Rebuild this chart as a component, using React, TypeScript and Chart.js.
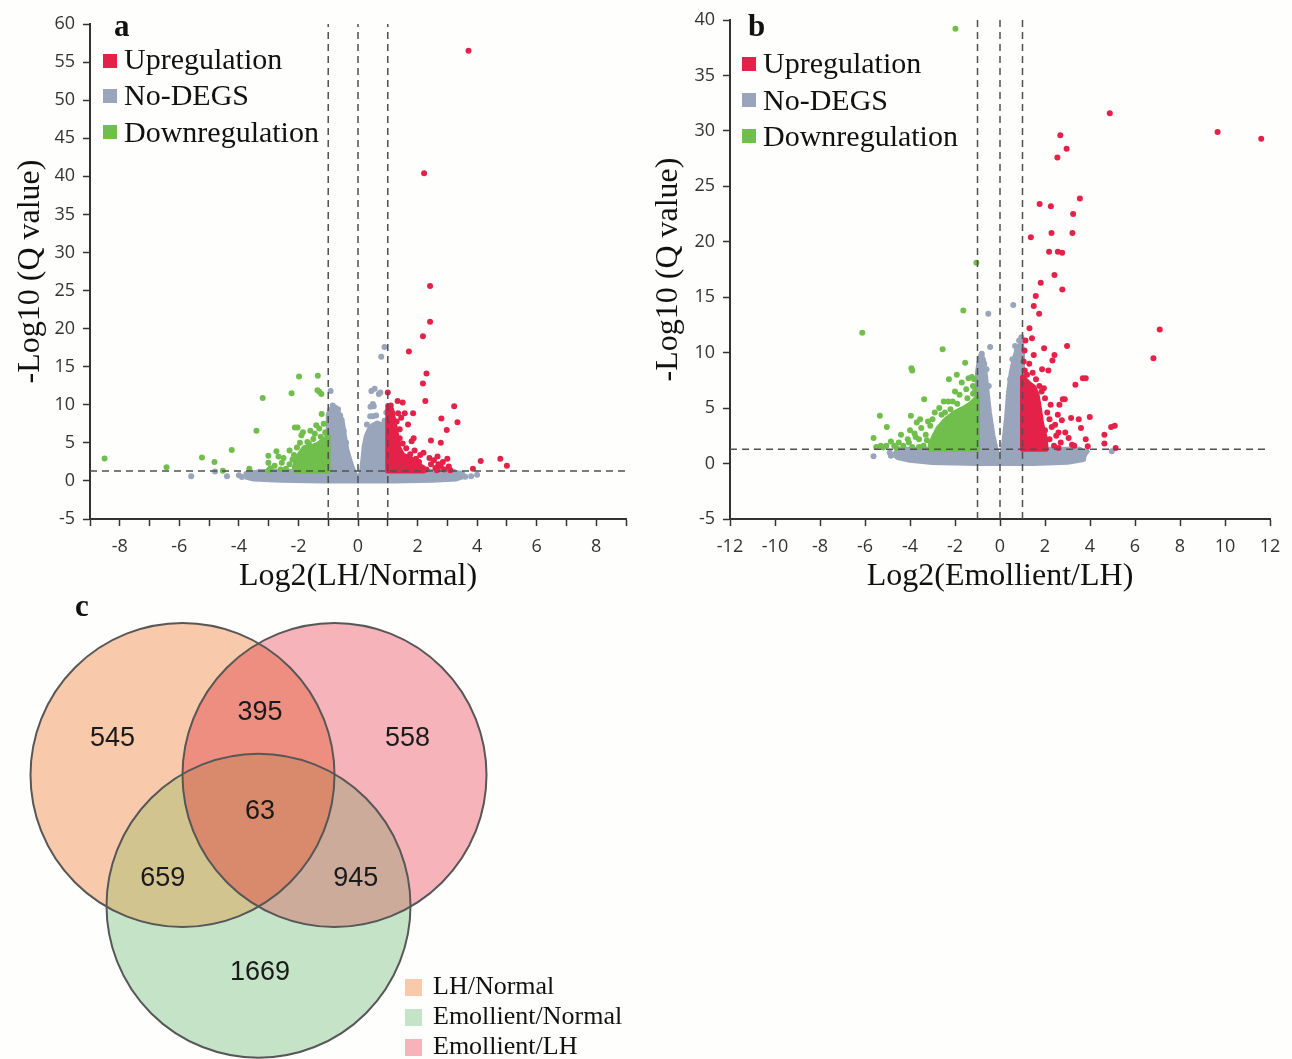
import React, { useEffect, useRef } from 'react';
import { Chart, registerables } from 'chart.js';

Chart.register(...registerables);

type Pt = [number, number];

// ================= shared =================
const yAxisTitle = '-Log10 (Q value)';
const foldThresholds = [-1, 0, 1];
const qThreshold = 1.3;
const legendLabels = ['Upregulation', 'No-DEGS', 'Downregulation'];

// ================= Panel a : Log2(LH/Normal) =================
const aXTitle = 'Log2(LH/Normal)';
const aXRange: Pt = [-9, 9];
const aYRange: Pt = [-5, 60];

const aNoDegsCore: Pt[] = [
  [-3.8, 0.55], [-3.6, 1.0], [-3.2, 1.25], [-1.0, 1.3], [-1.0, 8.6], [-0.95, 9.3], [-0.85, 9.6],
  [-0.7, 9.2], [-0.6, 8.6], [-0.52, 7.6], [-0.45, 5.8], [-0.38, 4.2], [-0.28, 2.8], [-0.18, 1.6],
  [-0.08, 0.7], [0.05, 0.5], [0.12, 1.2], [0.17, 3.0], [0.21, 4.6], [0.28, 5.9], [0.38, 6.8],
  [0.5, 7.3], [0.65, 7.6], [0.8, 7.3], [0.9, 7.6], [1.0, 7.8], [1.0, 1.3], [3.1, 1.25],
  [3.45, 1.0], [3.55, 0.6], [3.3, 0.25], [2.5, 0.08], [1.2, 0.0], [0.2, 0.0], [-1.2, 0.0],
  [-2.6, 0.08], [-3.5, 0.25],
];
const aNoDegsPoints: Pt[] = [
  [-0.92, 11.8], [-0.85, 9.9], [-0.76, 9.6], [-0.67, 9.4], [-0.6, 8.6], [-0.55, 8.0], [-0.48, 6.6],
  [-0.4, 5.0], [0.45, 11.8], [0.56, 12.1], [0.7, 11.4], [0.75, 11.6], [0.5, 10.1], [0.42, 9.75],
  [0.53, 9.8], [0.5, 8.5], [0.61, 8.6], [0.41, 8.5], [0.3, 7.4], [0.89, 7.9], [0.95, 9.0],
  [0.78, 16.3], [0.89, 17.6], [-5.6, 0.6], [-4.8, 1.25], [-4.4, 0.6], [-4.0, 0.75], [-3.9, 0.5],
  [-3.75, 0.9], [3.5, 0.9], [3.6, 0.55], [3.8, 0.6], [4.0, 0.8], [-3.3, 1.2], [3.2, 1.2],
];
const aDownCore: Pt[] = [
  [-2.1, 1.3], [-1.0, 1.3], [-1.0, 5.8], [-1.15, 5.4], [-1.35, 4.8], [-1.55, 4.5], [-1.8, 4.4],
  [-1.95, 3.6], [-2.1, 2.4],
];
const aDownPoints: Pt[] = [
  [-8.51, 2.96], [-6.43, 1.8], [-5.24, 3.06], [-4.82, 2.5], [-4.54, 1.35], [-4.24, 4.06],
  [-3.65, 1.6], [-3.41, 6.6], [-3.2, 10.9], [-3.01, 3.3], [-3.01, 2.4], [-2.94, 1.65],
  [-2.74, 3.9], [-2.67, 3.2], [-2.56, 2.4], [-2.42, 1.6], [-2.12, 1.8], [-2.23, 11.5],
  [-1.98, 13.7], [-1.35, 13.8], [-1.3, 11.7], [-1.23, 11.4], [-1.36, 11.9], [-1.22, 8.8],
  [-2.12, 7.0], [-2.03, 7.0], [-1.85, 6.4], [-1.6, 6.6], [-1.45, 6.2], [-1.3, 6.9], [-1.15, 7.5],
  [-1.1, 6.4], [-1.25, 5.8], [-1.5, 5.5], [-1.7, 5.1], [-1.95, 5.0], [-2.05, 4.4], [-2.3, 4.0],
  [-2.5, 3.0], [-2.2, 2.8], [-2.8, 2.0], [-2.3, 2.2], [-1.9, 6.0], [-1.65, 4.9], [-1.05, 6.2],
  [-2.15, 3.4], [-2.6, 1.5], [-3.0, 1.4], [-1.4, 7.3],
];
const aUpCore: Pt[] = [
  [1.0, 1.3], [2.2, 1.3], [2.2, 1.7], [2.0, 2.2], [1.8, 2.9], [1.5, 3.4], [1.35, 4.5],
  [1.3, 6.0], [1.2, 8.0], [1.12, 9.5], [1.0, 9.9],
];
const aUpPoints: Pt[] = [
  [3.71, 56.5], [2.22, 40.4], [2.42, 25.6], [2.42, 20.9], [2.18, 19.0], [1.71, 17.0], [2.3, 14.1],
  [2.18, 12.8], [2.26, 10.5], [1.0, 11.6], [1.33, 10.5], [1.5, 10.3], [3.23, 9.8], [3.34, 7.7],
  [2.8, 8.2], [2.98, 6.7], [2.45, 5.3], [2.78, 5.0], [4.78, 2.9], [4.12, 2.6], [5.0, 2.0],
  [3.86, 1.6], [1.1, 9.9], [1.16, 8.9], [1.35, 8.9], [1.57, 8.9], [1.85, 8.9], [1.68, 7.4],
  [1.45, 8.3], [1.87, 5.6], [1.5, 4.9], [1.62, 4.3], [1.9, 4.0], [2.09, 3.4], [2.05, 2.5],
  [2.4, 3.0], [2.67, 3.2], [2.85, 2.5], [3.0, 2.9], [2.78, 1.9], [2.6, 1.7], [2.45, 2.2],
  [3.05, 1.9], [2.9, 1.5], [2.3, 1.5], [1.7, 1.6], [1.55, 2.3], [1.4, 6.8], [1.3, 7.8],
  [2.65, 1.4], [3.1, 1.4], [1.95, 2.9], [2.2, 3.7], [1.8, 5.2], [1.75, 3.5], [1.4, 5.6],
  [2.55, 2.7], [2.7, 2.2], [1.2, 4.6],
];

// ================= Panel b : Log2(Emollient/LH) =================
const bXTitle = 'Log2(Emollient/LH)';
const bXRange: Pt = [-12, 12];
const bYRange: Pt = [-5, 40];

const bNoDegsCore: Pt[] = [
  [-4.7, 0.8], [-4.5, 1.3], [-1.0, 1.3], [-1.0, 8.2], [-0.93, 9.2], [-0.84, 9.8], [-0.74, 9.4],
  [-0.65, 8.0], [-0.57, 6.4], [-0.47, 4.6], [-0.32, 2.6], [-0.17, 1.2], [-0.03, 0.6], [0.1, 0.9],
  [0.18, 2.0], [0.3, 4.3], [0.38, 6.4], [0.5, 8.2], [0.65, 9.6], [0.8, 10.4], [0.95, 10.9],
  [1.0, 10.0], [1.0, 1.3], [3.55, 1.3], [3.8, 0.9], [3.65, 0.35], [3.0, 0.12], [1.5, 0.0],
  [-1.0, 0.0], [-3.0, 0.1], [-4.0, 0.3], [-4.55, 0.55],
];
const bNoDegsPoints: Pt[] = [
  [0.59, 14.3], [-0.52, 13.5], [-0.44, 10.5], [-0.81, 9.9], [-0.9, 9.5], [0.85, 11.1],
  [0.67, 10.6], [0.95, 11.4], [0.75, 10.2], [-0.6, 8.5], [-0.7, 9.0], [0.55, 9.4], [0.45, 7.6],
  [-0.5, 7.0], [-5.62, 0.65], [-4.85, 0.7], [4.97, 1.1], [3.85, 1.1], [3.7, 0.4], [-4.6, 0.9],
  [-4.3, 0.5], [-4.9, 1.0],
];
const bDownCore: Pt[] = [
  [-3.1, 1.3], [-1.0, 1.3], [-1.0, 6.0], [-1.3, 5.4], [-1.6, 5.0], [-2.0, 4.6], [-2.4, 4.0],
  [-2.75, 3.2], [-2.95, 2.4], [-3.1, 1.7],
];
const bDownPoints: Pt[] = [
  [-1.98, 39.2], [-1.05, 18.1], [-1.63, 13.8], [-6.12, 11.8], [-2.55, 10.3], [-3.94, 8.6],
  [-3.9, 8.4], [-1.55, 9.1], [-2.27, 7.6], [-1.92, 8.0], [-1.4, 7.7], [-1.25, 7.8], [-1.15, 7.6],
  [-3.37, 5.8], [-5.34, 4.3], [-3.96, 4.3], [-5.03, 3.3], [-5.62, 2.3], [-5.3, 1.6], [-5.2, 1.45],
  [-5.05, 1.6], [-4.7, 1.6], [-4.5, 1.9], [-4.3, 1.6], [-4.1, 2.2], [-3.9, 1.5], [-3.8, 2.7],
  [-3.6, 2.2], [-3.5, 3.2], [-3.3, 2.6], [-3.2, 3.8], [-3.0, 4.0], [-3.1, 3.4], [-2.9, 4.6],
  [-2.7, 5.0], [-2.5, 5.6], [-2.3, 5.6], [-2.1, 5.6], [-1.8, 6.2], [-1.5, 6.7], [-1.2, 7.0],
  [-1.1, 6.6], [-2.6, 4.4], [-3.7, 3.7], [-4.0, 3.0], [-4.4, 2.6], [-2.0, 6.5], [-1.7, 7.3],
  [-3.4, 1.6], [-4.6, 1.4], [-5.5, 1.5], [-4.85, 2.0], [-3.55, 4.0], [-2.85, 2.0],
  [-2.2, 4.9], [-1.9, 5.4], [-1.45, 5.9], [-1.2, 6.3], [-2.45, 4.6], [-3.25, 2.1], [-3.6, 1.5],
  [-4.05, 1.9], [-3.75, 2.4],
];
const bUpCore: Pt[] = [
  [1.0, 1.3], [2.05, 1.3], [2.0, 2.4], [1.85, 3.6], [1.75, 5.0], [1.65, 6.2], [1.5, 6.9],
  [1.3, 7.2], [1.1, 7.6], [1.0, 7.8],
];
const bUpPoints: Pt[] = [
  [4.88, 31.6], [9.67, 29.9], [11.61, 29.3], [2.68, 29.6], [2.96, 28.4], [2.55, 27.6],
  [3.55, 23.9], [1.76, 23.4], [2.26, 23.2], [3.25, 22.5], [2.29, 20.8], [3.22, 20.8],
  [1.37, 20.4], [2.18, 19.1], [2.57, 19.1], [2.76, 19.0], [2.42, 17.0], [1.81, 16.3],
  [2.77, 15.7], [1.59, 15.1], [1.5, 14.2], [1.74, 13.5], [1.31, 12.2], [7.1, 12.1], [1.42, 11.3],
  [1.13, 11.1], [2.98, 10.6], [6.82, 9.5], [1.96, 10.4], [1.09, 10.2], [2.42, 9.8], [2.33, 9.3],
  [1.5, 9.8], [1.87, 8.5], [2.15, 8.4], [3.68, 7.7], [3.81, 7.7], [3.35, 7.1], [2.79, 5.8],
  [2.88, 5.8], [2.64, 5.3], [2.57, 4.4], [3.99, 4.2], [3.16, 4.1], [4.94, 3.3], [5.1, 3.4],
  [4.64, 2.6], [3.81, 2.2], [4.64, 1.8], [3.9, 1.55], [5.14, 1.4], [1.05, 9.2], [1.1, 8.4],
  [1.2, 8.0], [1.3, 9.0], [1.45, 8.2], [1.6, 7.6], [1.75, 7.0], [1.85, 6.5], [2.0, 5.9],
  [2.1, 4.6], [2.2, 4.0], [2.3, 3.3], [2.45, 3.5], [2.6, 2.8], [2.2, 2.2], [2.4, 1.6],
  [2.7, 1.9], [2.0, 3.0], [2.25, 5.3], [1.95, 6.8], [2.75, 3.9], [2.9, 2.8], [3.05, 2.3],
  [3.2, 1.7], [2.5, 2.5], [1.8, 1.6], [2.6, 1.4], [3.3, 1.6], [3.6, 3.2], [3.5, 4.0],
];

// ================= Panel c : Venn =================
const vennSetNames = ['LH/Normal', 'Emollient/LH', 'Emollient/Normal'];
const vennCenterX = [-0.5, 0.5, 0.0];
const vennCenterY = [0.0, 0.0, -0.86];
const vennRadius = 1;
const vennOverlapMembers = [[0, 1], [0, 2], [1, 2], [0, 1, 2]];
const vennCounts = [545, 395, 558, 63, 659, 945, 1669];
const vennLabelX = [-0.96, 0.01, 0.98, 0.01, -0.63, 0.64, 0.01];
const vennLabelY = [0.24, 0.41, 0.24, -0.24, -0.68, -0.68, -1.3];
const vennLegendOrder = [0, 2, 1];

// ================= styles / layout =================
const RED = '#E42249';
const GREEN = '#70BE4C';
const GRAY = '#98A5BA';
const VENN_SET_COLORS = ['#F8C9AA', '#F6B3BA', '#C4E3C7'];
const VENN_OVERLAP_COLORS = ['#EE8E80', '#D2C48F', '#CDAB9B', '#D98A6C'];
const SERIF = '"Liberation Serif", "Times New Roman", serif';
const SANS_TICK = '"Open Sans", "Noto Sans", sans-serif';
const AXIS = '#333333';
const VENN_X_VIEW: Pt = [-1.7007, 2.5428];
const VENN_Y_VIEW: Pt = [-1.8684, 1.1842];

interface VolcanoSpec {
  xRange: Pt; yRange: Pt; xStep: number; xTitle: string;
  grayCore: Pt[]; grayPts: Pt[]; downCore: Pt[]; downPts: Pt[]; upCore: Pt[]; upPts: Pt[];
  yAxisWidth: number; padTop: number; padRight: number; yTitlePad: number; xAxisHeight: number;
}

const xy = (a: Pt[]) => a.map(([x, y]) => ({ x, y }));

function makeVolcano(canvas: HTMLCanvasElement, s: VolcanoSpec) {
  const area = (a: Pt[], color: string, order: number) => ({
    type: 'line', data: xy([...a, a[0]]), showLine: true, fill: 'shape',
    backgroundColor: color, borderColor: color, borderWidth: 5, borderJoinStyle: 'round',
    pointRadius: 0, pointHoverRadius: 0, tension: 0, order,
  });
  const dots = (a: Pt[], color: string, order: number) => ({
    type: 'line', data: xy(a), showLine: false, pointRadius: 3, pointHoverRadius: 3,
    pointBackgroundColor: color, pointBorderWidth: 0, borderColor: color, backgroundColor: color, order,
  });
  const dashed = (a: Pt[]) => ({
    type: 'line', data: xy(a), borderColor: '#505050', borderWidth: 1.5, borderDash: [7, 5],
    pointRadius: 0, pointHoverRadius: 0, fill: false, order: 1,
  });
  const [xMin, xMax] = s.xRange;
  const [yMin, yMax] = s.yRange;
  const datasets: any[] = [
    area(s.grayCore, GRAY, 10), dots(s.grayPts, GRAY, 9),
    area(s.downCore, GREEN, 8), dots(s.downPts, GREEN, 7),
    area(s.upCore, RED, 6), dots(s.upPts, RED, 5),
    ...foldThresholds.map((v) => dashed([[v, yMin], [v, yMax]])),
    dashed([[xMin, qThreshold], [xMax, qThreshold]]),
  ];
  const grid = { display: true, drawOnChartArea: false, drawTicks: true, tickLength: 7, tickWidth: 1.5, tickColor: AXIS };
  const border = { display: true, color: AXIS, width: 2 };
  return new Chart(canvas, {
    type: 'line',
    data: { datasets },
    options: {
      responsive: false, animation: false, devicePixelRatio: 1, events: [],
      layout: { autoPadding: false, padding: { top: s.padTop, right: s.padRight, left: 0, bottom: 0 } },
      plugins: { legend: { display: false }, tooltip: { enabled: false } },
      scales: {
        x: {
          type: 'linear', min: xMin, max: xMax,
          ticks: {
            stepSize: s.xStep, autoSkip: false, maxRotation: 0, padding: 10, color: AXIS,
            font: { family: SANS_TICK, size: 18 },
            callback: (v: any) => (Number(v) % 2 === 0 ? String(v) : ''),
          },
          grid, border,
          title: { display: true, text: s.xTitle, color: '#111', font: { family: SERIF, size: 32 }, padding: { top: 0, bottom: 4 } },
          afterFit: (sc: any) => { sc.height = s.xAxisHeight; },
        },
        y: {
          type: 'linear', min: yMin, max: yMax,
          ticks: { stepSize: 5, autoSkip: false, padding: 8, color: AXIS, font: { family: SANS_TICK, size: 18 } },
          grid, border,
          title: { display: true, text: yAxisTitle, color: '#111', font: { family: SERIF, size: 32 }, padding: { top: s.yTitlePad, bottom: 0 } },
          afterFit: (sc: any) => { sc.width = s.yAxisWidth; },
        },
      },
    } as any,
  });
}

const vennPlugin = {
  id: 'vennRegions',
  afterDatasetDraw(chart: any, args: any) {
    if (args.index !== 0) return;
    const { ctx } = chart;
    const sx = chart.scales.x;
    const sy = chart.scales.y;
    const r = sx.getPixelForValue(vennRadius) - sx.getPixelForValue(0);
    const path = (i: number) => {
      ctx.beginPath();
      ctx.arc(sx.getPixelForValue(vennCenterX[i]), sy.getPixelForValue(vennCenterY[i]), r, 0, Math.PI * 2);
    };
    vennOverlapMembers.forEach((members, k) => {
      ctx.save();
      members.slice(0, -1).forEach((m) => { path(m); ctx.clip(); });
      path(members[members.length - 1]);
      ctx.fillStyle = VENN_OVERLAP_COLORS[k];
      ctx.fill();
      ctx.restore();
    });
  },
  afterDatasetsDraw(chart: any) {
    const { ctx } = chart;
    const sx = chart.scales.x;
    const sy = chart.scales.y;
    ctx.save();
    ctx.font = '27px "Liberation Sans", Arial, sans-serif';
    ctx.fillStyle = '#1a1a1a';
    ctx.textAlign = 'center';
    ctx.textBaseline = 'middle';
    vennCounts.forEach((c, i) => {
      ctx.fillText(String(c), sx.getPixelForValue(vennLabelX[i]), sy.getPixelForValue(vennLabelY[i]));
    });
    ctx.restore();
  },
};

function makeVenn(canvas: HTMLCanvasElement) {
  const circles = () => vennCenterX.map((x, i) => ({ x, y: vennCenterY[i] }));
  // pixel radius of one data unit (chart area fills the whole canvas: hidden axes, no padding)
  const radius = (vennRadius * canvas.width) / (VENN_X_VIEW[1] - VENN_X_VIEW[0]);
  return new Chart(canvas, {
    type: 'bubble',
    data: {
      datasets: [
        { data: circles(), backgroundColor: VENN_SET_COLORS, borderWidth: 0, radius, hoverRadius: 0, order: 2, clip: false },
        { data: circles(), backgroundColor: 'rgba(0,0,0,0)', borderColor: '#575757', borderWidth: 2, radius, hoverRadius: 0, order: 1, clip: false },
      ],
    } as any,
    options: {
      responsive: false, animation: false, devicePixelRatio: 1, events: [],
      layout: { autoPadding: false, padding: 0 },
      plugins: { legend: { display: false }, tooltip: { enabled: false } },
      scales: {
        x: { type: 'linear', display: false, min: VENN_X_VIEW[0], max: VENN_X_VIEW[1] },
        y: { type: 'linear', display: false, min: VENN_Y_VIEW[0], max: VENN_Y_VIEW[1] },
      },
    } as any,
    plugins: [vennPlugin],
  });
}

function Txt({ x, base, size, bold, children }: { x: number; base: number; size: number; bold?: boolean; children: any }) {
  return (
    <div style={{
      position: 'absolute', left: x, top: base - 0.8375 * size, fontFamily: SERIF, fontSize: size,
      lineHeight: `${size}px`, fontWeight: bold ? 700 : 400, color: '#111', whiteSpace: 'nowrap',
    }}>{children}</div>
  );
}

function Sq({ x, cy, size, color }: { x: number; cy: number; size: number; color: string }) {
  return <div style={{ position: 'absolute', left: x, top: cy - size / 2, width: size, height: size, background: color }} />;
}

export default function App() {
  const aRef = useRef<HTMLCanvasElement>(null);
  const bRef = useRef<HTMLCanvasElement>(null);
  const vRef = useRef<HTMLCanvasElement>(null);

  useEffect(() => {
    const charts: Chart[] = [];
    if (aRef.current) {
      charts.push(makeVolcano(aRef.current, {
        xRange: aXRange, yRange: aYRange, xStep: 1, xTitle: aXTitle,
        grayCore: aNoDegsCore, grayPts: aNoDegsPoints, downCore: aDownCore, downPts: aDownPoints,
        upCore: aUpCore, upPts: aUpPoints,
        yAxisWidth: 90, padTop: 24, padRight: 19, yTitlePad: 11, xAxisHeight: 81,
      }));
    }
    if (bRef.current) {
      charts.push(makeVolcano(bRef.current, {
        xRange: bXRange, yRange: bYRange, xStep: 2, xTitle: bXTitle,
        grayCore: bNoDegsCore, grayPts: bNoDegsPoints, downCore: bDownCore, downPts: bDownPoints,
        upCore: bUpCore, upPts: bUpPoints,
        yAxisWidth: 85, padTop: 20, padRight: 22, yTitlePad: 4, xAxisHeight: 81,
      }));
    }
    if (vRef.current) charts.push(makeVenn(vRef.current));
    return () => charts.forEach((c) => c.destroy());
  }, []);

  const volcanoColors = [RED, GRAY, GREEN];
  return (
    <div style={{ position: 'absolute', left: 0, top: 0, width: 1292, height: 1059, background: '#fefefc', overflow: 'hidden' }}>
      <canvas ref={aRef} width={645} height={600} style={{ position: 'absolute', left: 0, top: 0 }} />
      <canvas ref={bRef} width={647} height={600} style={{ position: 'absolute', left: 645, top: 0 }} />
      <canvas ref={vRef} width={645} height={464} style={{ position: 'absolute', left: 0, top: 595 }} />

      <Txt x={114} base={36} size={31} bold>a</Txt>
      <Txt x={748} base={36} size={31} bold>b</Txt>
      <Txt x={75} base={616} size={31} bold>c</Txt>

      {legendLabels.map((t, i) => (
        <React.Fragment key={'a' + t}>
          <Sq x={103} cy={[61, 96, 132][i]} size={14} color={volcanoColors[i]} />
          <Txt x={124} base={[69, 105, 142][i]} size={30}>{t}</Txt>
        </React.Fragment>
      ))}
      {legendLabels.map((t, i) => (
        <React.Fragment key={'b' + t}>
          <Sq x={742} cy={[64, 100, 136][i]} size={14} color={volcanoColors[i]} />
          <Txt x={763} base={[73, 110, 146][i]} size={30}>{t}</Txt>
        </React.Fragment>
      ))}
      {vennLegendOrder.map((k, i) => (
        <React.Fragment key={'v' + k}>
          <Sq x={405} cy={[987, 1017, 1047][i]} size={17} color={VENN_SET_COLORS[k]} />
          <Txt x={433} base={[995, 1025, 1055][i]} size={26}>{vennSetNames[k]}</Txt>
        </React.Fragment>
      ))}
    </div>
  );
}
